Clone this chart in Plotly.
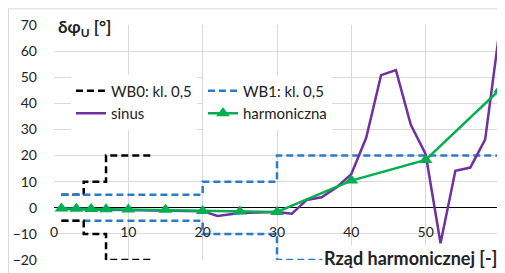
import plotly.graph_objects as go

# Limits (step curves)
wb0_x = [1, 4, 4, 7, 7, 13]
wb0_lim = [5, 5, 10, 10, 20, 20]
wb1_x = [1, 20, 20, 30, 30, 60]
wb1_lim = [5, 5, 10, 10, 20, 20]

# Measured phase errors
sin_x = [1, 3, 5, 7, 10, 15, 20, 22, 25, 30, 32, 34, 36, 38, 40, 42, 44, 46, 48, 50, 52, 54, 56, 58, 60]
sin_y = [-0.5, -0.6, -0.7, -0.8, -0.9, -1.0, -1.3, -3.1, -2.0, -1.6, -2.3, 3.0, 4.0, 7.8, 12.9, 26.8,
         50.8, 52.7, 31.8, 20.5, -13.6, 14.2, 15.4, 26.1, 69.4]
harm_x = [1, 3, 5, 7, 10, 15, 20, 25, 30, 40, 50, 60]
harm_y = [-0.3, -0.4, -0.5, -0.6, -0.7, -0.8, -1.2, -1.4, -1.6, 10.4, 18.3, 45.3]

BLACK = "#000000"
BLUE = "#2A7BCB"
PURPLE = "#7030A0"
GREEN = "#00B050"
GRID = "#D9D9D9"
FONT = "Lato"
DASH = "7px,4px"
TXT = "#222222"

fig = go.Figure()
fig.add_trace(go.Scatter(x=wb0_x, y=wb0_lim, mode="lines", name="WB0: kl. 0,5",
                         line=dict(color=BLACK, width=2.5, dash=DASH), legend="legend"))
fig.add_trace(go.Scatter(x=wb1_x + [None] + wb1_x, y=wb1_lim + [None] + [-v for v in wb1_lim],
                         mode="lines", name="WB1: kl. 0,5",
                         line=dict(color=BLUE, width=2.5, dash=DASH), legend="legend2"))
fig.add_trace(go.Scatter(x=wb0_x, y=[-v for v in wb0_lim], mode="lines", name="WB0: kl. 0,5",
                         line=dict(color=BLACK, width=2.5, dash=DASH), showlegend=False))
fig.add_trace(go.Scatter(x=sin_x, y=sin_y, mode="lines", name="sinus",
                         line=dict(color=PURPLE, width=2.5), legend="legend"))
fig.add_trace(go.Scatter(x=harm_x, y=harm_y, mode="lines+markers", name="harmoniczna",
                         line=dict(color=GREEN, width=2.5),
                         marker=dict(symbol="triangle-up", size=12, color=GREEN), legend="legend2"))

# page has an 8px body margin -> figure is 497x265, offset by 8px
fig.update_layout(
    width=497, height=265,
    margin=dict(l=46, r=5, t=17, b=10),
    paper_bgcolor="white", plot_bgcolor="white",
    font=dict(family=FONT, size=14, color=TXT),
    xaxis=dict(range=[0, 60], dtick=10, showgrid=True, gridcolor=GRID, gridwidth=1,
               zeroline=False, showline=False, anchor="free", position=20 / 90,
               ticks="", ticklabelstandoff=14,
               tickfont=dict(family=FONT, size=14, color=TXT)),
    yaxis=dict(range=[-20, 70], dtick=10, showgrid=True, gridcolor=GRID, gridwidth=1,
               zeroline=True, zerolinecolor=BLACK, zerolinewidth=1.3, showline=False,
               ticks="", ticklabelstandoff=16,
               tickfont=dict(family=FONT, size=14, color=TXT)),
    legend=dict(x=0.038, y=0.789, xanchor="left", yanchor="top", orientation="v",
                bgcolor="white", borderwidth=0, tracegroupgap=0,
                font=dict(family=FONT, size=15, color=TXT), itemwidth=30),
    legend2=dict(x=0.334, y=0.789, xanchor="left", yanchor="top", orientation="v",
                 bgcolor="white", borderwidth=0, tracegroupgap=0,
                 font=dict(family=FONT, size=15, color=TXT), itemwidth=30),
    showlegend=True,
)

fig.add_annotation(text="<b>δφ<sub>U</sub> [°]</b>", xref="paper", yref="paper",
                   x=0, y=1, xanchor="left", yanchor="top", xshift=2, yshift=11,
                   showarrow=False, font=dict(family=FONT, size=17, color=TXT))
fig.add_annotation(text="<b>Rząd harmonicznej [-]</b>", xref="paper", yref="paper",
                   x=(325 - 54) / 446, y=0, xanchor="left", yanchor="middle", xshift=-3, yshift=2,
                   showarrow=False, bgcolor="white", borderpad=1,
                   font=dict(family=FONT, size=18, color=TXT))

# outer chart border
fig.add_shape(type="rect", xref="paper", yref="paper", x0=-0.102, x1=1.05, y0=-0.1, y1=1.069,
              line=dict(color="#D9D9D9", width=1), fillcolor="rgba(0,0,0,0)", layer="below")

fig.write_html("out.html")
